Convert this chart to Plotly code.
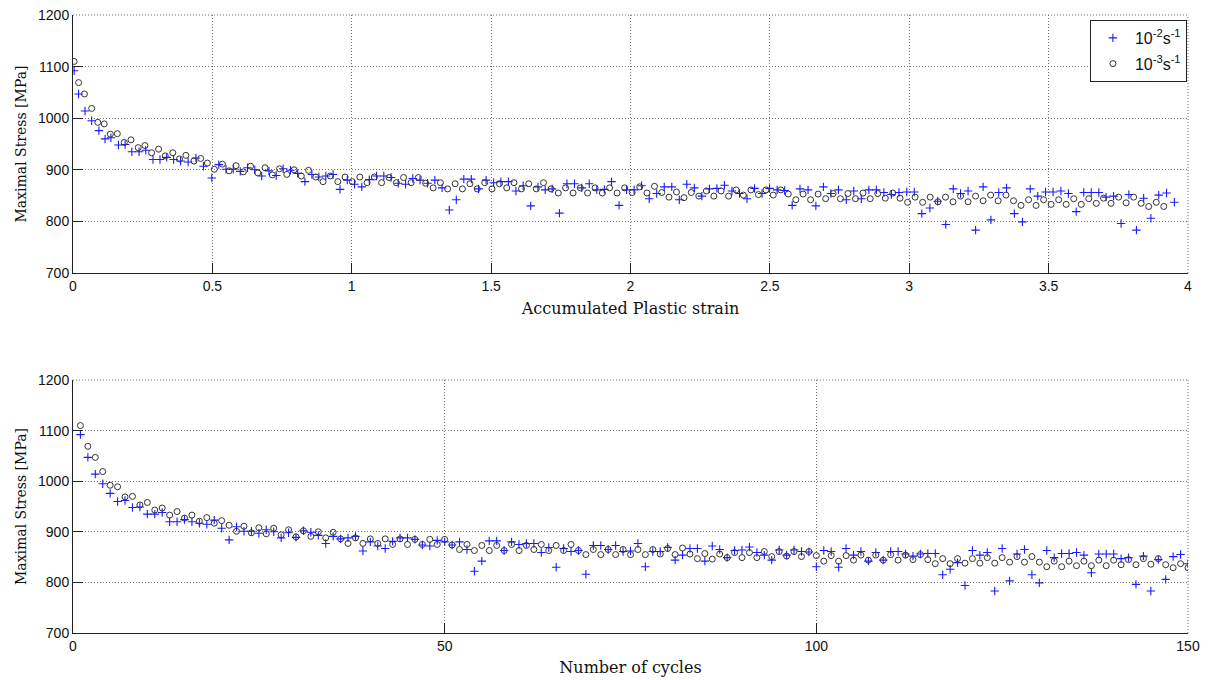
import plotly.graph_objects as go

# ---------------- data ----------------
cycles = list(range(1, 151))

# maximal stress [MPa], strain rate 1e-2 s^-1 (blue +)
stress_fast = [
    1092, 1047, 1014, 995, 976, 960, 962, 948, 949, 935,
    935, 938, 920, 920, 924, 920, 917, 915, 923, 907,
    884, 910, 901, 901, 897, 904, 900, 888, 898, 889,
    902, 899, 893, 877, 891, 886, 888, 891, 862, 880,
    872, 867, 881, 888, 888, 885, 874, 872, 883, 880,
    874, 880, 865, 822, 842, 882, 882, 863, 880, 875,
    877, 877, 859, 869, 830, 867, 861, 863, 816, 873,
    873, 865, 873, 861, 862, 877, 831, 861, 861, 869,
    844, 854, 867, 867, 842, 872, 865, 849, 863, 864,
    870, 859, 854, 844, 864, 854, 864, 861, 860, 831,
    863, 861, 830, 867, 854, 861, 842, 859, 844, 861,
    861, 856, 852, 856, 857, 857, 815, 826, 839, 794,
    863, 854, 859, 783, 867, 803, 856, 865, 815, 799,
    863, 849, 857, 857, 859, 854, 819, 856, 856, 856,
    847, 849, 796, 852, 783, 845, 806, 851, 855, 837,
]

# maximal stress [MPa], strain rate 1e-3 s^-1 (black o)
stress_slow = [
    1110, 1069, 1047, 1019, 992, 989, 969, 970, 953, 958,
    943, 947, 933, 940, 927, 933, 921, 928, 917, 922,
    913, 901, 911, 898, 908, 896, 907, 894, 904, 890,
    902, 891, 900, 888, 899, 886, 877, 888, 877, 886,
    877, 886, 875, 886, 875, 885, 875, 885, 875, 885,
    874, 865, 875, 863, 873, 863, 873, 863, 875, 863,
    873, 865, 875, 863, 873, 863, 875, 863, 855, 865,
    855, 865, 855, 865, 855, 865, 855, 865, 856, 867,
    855, 868, 856, 847, 857, 846, 856, 849, 859, 849,
    859, 849, 861, 851, 861, 852, 861, 851, 861, 853,
    842, 853, 842, 853, 844, 854, 844, 854, 844, 855,
    844, 854, 845, 855, 845, 837, 847, 837, 847, 838,
    847, 838, 849, 838, 849, 840, 851, 840, 851, 840,
    831, 842, 831, 842, 833, 842, 833, 844, 833, 844,
    835, 845, 835, 847, 836, 847, 835, 829, 837, 829,
]

# accumulated plastic strain at each cycle
strain_fast = [
    0.004, 0.020, 0.043, 0.067, 0.093, 0.115, 0.136, 0.163, 0.187, 0.211,
    0.237, 0.261, 0.287, 0.312, 0.336, 0.361, 0.386, 0.413, 0.441, 0.468,
    0.498, 0.523, 0.549, 0.575, 0.600, 0.626, 0.652, 0.677, 0.703, 0.729,
    0.754, 0.780, 0.806, 0.832, 0.857, 0.882, 0.907, 0.933, 0.958, 0.984,
    1.010, 1.036, 1.063, 1.089, 1.115, 1.141, 1.167, 1.193, 1.219, 1.245,
    1.272, 1.298, 1.324, 1.350, 1.375, 1.402, 1.429, 1.455, 1.482, 1.509,
    1.535, 1.562, 1.589, 1.615, 1.642, 1.668, 1.694, 1.719, 1.745, 1.772,
    1.799, 1.825, 1.852, 1.879, 1.906, 1.932, 1.959, 1.986, 2.013, 2.040,
    2.067, 2.094, 2.121, 2.148, 2.175, 2.202, 2.229, 2.256, 2.283, 2.310,
    2.337, 2.364, 2.391, 2.418, 2.445, 2.472, 2.499, 2.526, 2.553, 2.580,
    2.608, 2.637, 2.665, 2.692, 2.719, 2.746, 2.774, 2.801, 2.828, 2.855,
    2.882, 2.909, 2.936, 2.963, 2.991, 3.018, 3.045, 3.074, 3.102, 3.131,
    3.158, 3.184, 3.211, 3.238, 3.265, 3.293, 3.321, 3.349, 3.377, 3.406,
    3.434, 3.461, 3.489, 3.516, 3.544, 3.571, 3.599, 3.626, 3.653, 3.680,
    3.706, 3.733, 3.760, 3.788, 3.815, 3.841, 3.867, 3.895, 3.923, 3.951,
]

strain_slow = [
    0.004, 0.020, 0.041, 0.067, 0.089, 0.112, 0.134, 0.159, 0.184, 0.208,
    0.234, 0.258, 0.282, 0.307, 0.331, 0.358, 0.382, 0.405, 0.434, 0.458,
    0.482, 0.507, 0.536, 0.560, 0.585, 0.611, 0.637, 0.663, 0.689, 0.715,
    0.741, 0.767, 0.793, 0.819, 0.845, 0.871, 0.897, 0.923, 0.950, 0.976,
    1.002, 1.029, 1.055, 1.081, 1.107, 1.134, 1.160, 1.186, 1.213, 1.239,
    1.265, 1.292, 1.318, 1.344, 1.371, 1.397, 1.424, 1.450, 1.477, 1.503,
    1.530, 1.556, 1.582, 1.609, 1.635, 1.662, 1.688, 1.715, 1.741, 1.767,
    1.794, 1.820, 1.846, 1.873, 1.899, 1.925, 1.952, 1.979, 2.006, 2.033,
    2.059, 2.086, 2.112, 2.138, 2.165, 2.192, 2.218, 2.245, 2.272, 2.299,
    2.325, 2.352, 2.379, 2.405, 2.432, 2.459, 2.486, 2.512, 2.539, 2.566,
    2.593, 2.619, 2.646, 2.673, 2.700, 2.727, 2.753, 2.780, 2.807, 2.834,
    2.860, 2.887, 2.914, 2.941, 2.967, 2.994, 3.021, 3.048, 3.075, 3.103,
    3.130, 3.157, 3.184, 3.211, 3.238, 3.265, 3.292, 3.319, 3.347, 3.374,
    3.401, 3.428, 3.455, 3.482, 3.509, 3.536, 3.563, 3.590, 3.617, 3.644,
    3.671, 3.697, 3.724, 3.751, 3.778, 3.805, 3.832, 3.859, 3.886, 3.913,
]

series_names = ["10<sup>-2</sup>s<sup>-1</sup>", "10<sup>-3</sup>s<sup>-1</sup>"]
strain_ticks = [0, 0.5, 1, 1.5, 2, 2.5, 3, 3.5, 4]
strain_tick_text = ["0", "0.5", "1", "1.5", "2", "2.5", "3", "3.5", "4"]
cycle_ticks = [0, 50, 100, 150]
stress_ticks = [700, 800, 900, 1000, 1100, 1200]

# ---------------- styles ----------------
BLUE = "#1a1aff"
CIRC = "#333333"
plus_marker = dict(symbol="cross-thin", size=6, line=dict(color=BLUE, width=1.1), color=BLUE)
circ_marker = dict(symbol="circle-open", size=6, line=dict(color=CIRC, width=1), color=CIRC)

fig = go.Figure()

fig.add_trace(go.Scatter(x=strain_fast, y=stress_fast, mode="markers", name=series_names[0],
                         marker=plus_marker, xaxis="x", yaxis="y", legendgroup="a"))
fig.add_trace(go.Scatter(x=strain_slow, y=stress_slow, mode="markers", name=series_names[1],
                         marker=circ_marker, xaxis="x", yaxis="y", legendgroup="b"))
fig.add_trace(go.Scatter(x=cycles, y=stress_fast, mode="markers", name=series_names[0],
                         marker=plus_marker, xaxis="x2", yaxis="y2", legendgroup="a", showlegend=False))
fig.add_trace(go.Scatter(x=cycles, y=stress_slow, mode="markers", name=series_names[1],
                         marker=circ_marker, xaxis="x2", yaxis="y2", legendgroup="b", showlegend=False))

TICKFONT = dict(family="Liberation Sans, Arial, sans-serif", size=14, color="#111")
XTITLEFONT = dict(family="DejaVu Serif, serif", size=16, color="#111")
YTITLEFONT = dict(family="DejaVu Serif, serif", size=14, color="#111")
GRIDDASH = "1px,2px"
GRIDCOLOR = "#6e6e6e"

common_axis = dict(
    showgrid=True, gridcolor=GRIDCOLOR, griddash=GRIDDASH, gridwidth=1,
    zeroline=False, showline=True, linecolor="#222", linewidth=1,
    ticks="inside", ticklen=10, tickcolor="#222", tickwidth=1,
    tickfont=TICKFONT, mirror=False, automargin=False, ticklabeloverflow="allow",
)

# the page body adds an 8 px offset, so the figure is sized to fit the window
W, H = 1202, 672
ML, MR, MT, MB = 65, 22, 7, 47
H_PLOT = H - MT - MB
top_lo = (633 - 273) / H_PLOT
bot_hi = (633 - 380) / H_PLOT

fig.update_layout(
    width=W, height=H,
    margin=dict(l=ML, r=MR, t=MT, b=MB, autoexpand=False),
    paper_bgcolor="white", plot_bgcolor="white",
    xaxis=dict(common_axis, domain=[0, 1], range=[0, 4], tickvals=strain_ticks,
               ticktext=strain_tick_text, anchor="y",
               title=dict(text="Accumulated Plastic strain", font=XTITLEFONT, standoff=10)),
    yaxis=dict(common_axis, domain=[top_lo, 1], range=[700, 1200], tickvals=stress_ticks,
               anchor="x",
               title=dict(text="Maximal Stress [MPa]", font=YTITLEFONT, standoff=8)),
    xaxis2=dict(common_axis, domain=[0, 1], range=[0, 150], tickvals=cycle_ticks, anchor="y2",
                title=dict(text="Number of cycles", font=XTITLEFONT, standoff=9)),
    yaxis2=dict(common_axis, domain=[0, bot_hi], range=[700, 1200], tickvals=stress_ticks,
                anchor="x2",
                title=dict(text="Maximal Stress [MPa]", font=YTITLEFONT, standoff=8)),
    legend=dict(x=0.999, y=0.992, xanchor="right", yanchor="top",
                bgcolor="white", bordercolor="#222", borderwidth=1,
                font=dict(family="Liberation Sans, Arial, sans-serif", size=16, color="#111"),
                itemwidth=34, tracegroupgap=2),
    showlegend=True,
)

# dotted frame lines on the top and right edges (grid lines at the range limits)
for yref_dom, xref_dom in (("y domain", "x domain"), ("y2 domain", "x2 domain")):
    fig.add_shape(type="line", xref=xref_dom, yref=yref_dom, x0=0, x1=1, y0=1, y1=1,
                  line=dict(color=GRIDCOLOR, width=1, dash=GRIDDASH), layer="below")
    fig.add_shape(type="line", xref=xref_dom, yref=yref_dom, x0=1, x1=1, y0=0, y1=1,
                  line=dict(color=GRIDCOLOR, width=1, dash=GRIDDASH), layer="below")

fig.write_html("out.html")
